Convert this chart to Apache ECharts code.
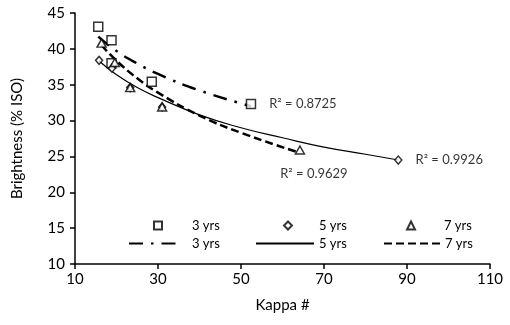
<!DOCTYPE html>
<html>
<head>
<meta charset="utf-8">
<script src="https://cdn.jsdelivr.net/npm/echarts@6/dist/echarts.min.js"></script>
<style>
  html, body { margin: 0; padding: 0; background: #fff; }
  #chart { width: 510px; height: 325px; }
</style>
</head>
<body>
<div id="chart"></div>
<script>
// measured points, [kappa, brightness]
const pts3 = [[15.6, 43.1], [18.8, 41.2], [18.8, 38.0], [28.5, 35.4], [52.4, 32.3]]
const pts5 = [[15.8, 38.4], [18.9, 37.3], [23.3, 34.6], [31.0, 31.9], [87.9, 24.5]]
const pts7 = [[16.4, 40.8], [19.6, 38.1], [23.3, 34.6], [31.0, 31.9], [64.2, 25.9]]

// trendlines
const fit3 = [[15.6, 41.7], [20, 39.7], [25, 37.95], [30, 36.5], [40, 34.2], [52.4, 32.0]]
const fit5 = [[15.8, 38.3], [20, 36.4], [25, 34.6], [30, 33.2], [40, 30.8], [50, 29.0], [60, 27.6], [70, 26.3], [80, 25.3], [87.9, 24.5]]
const fit7 = [[16.4, 40.5], [20, 38.35], [25, 35.9], [30, 33.9], [40, 30.7], [50, 28.3], [64.2, 25.5]]

const r2Labels = ['R\u00b2 = 0.8725', 'R\u00b2 = 0.9926', 'R\u00b2 = 0.9629']

const FONT = 'Lato'

const chart = echarts.init(document.getElementById('chart'))

const markerStyle = { color: '#fff', borderColor: '#000', borderWidth: 1.5 }

// put the R² text on the last marker of each set
const withEndLabel = (arr, text, pos, offset) =>
  arr.map((p, i) => i === arr.length - 1
    ? { value: p, label: { show: true, formatter: text, position: pos, offset: offset, color: '#000', fontSize: 13, fontFamily: FONT } }
    : p)

const legendBox = (name, left, top, w, h, gap) => ({
  data: [name],
  left: left,
  top: top,
  itemWidth: w,
  itemHeight: h,
  itemGap: 0,
  padding: 0,
  selectedMode: false,
  textStyle: { fontFamily: FONT, fontSize: 13, color: '#000', padding: [0, 0, 0, gap] },
  formatter: (n) => n.replace(' fit', '')
})

const option = {
  animation: false,
  grid: { left: 75, right: 20, top: 13, bottom: 61 },
  legend: [
    legendBox('3 yrs', 153, 219, 8, 8, 25),
    legendBox('5 yrs', 283, 219, 8, 8, 22),
    legendBox('7 yrs', 406, 219, 8, 8, 24),
    legendBox('3 yrs fit', 128, 237, 50, 10, 8),
    legendBox('5 yrs fit', 255, 237, 58, 10, 0),
    legendBox('7 yrs fit', 383, 237, 56, 10, 0)
  ],
  xAxis: {
    type: 'value',
    min: 10,
    max: 110,
    interval: 20,
    name: 'Kappa #',
    nameLocation: 'middle',
    nameGap: 34,
    nameTextStyle: { fontFamily: FONT, fontSize: 15, color: '#000' },
    axisLine: { lineStyle: { color: '#000', width: 1.5 } },
    axisTick: { show: true, inside: false, length: 5, lineStyle: { color: '#000', width: 1.5 } },
    axisLabel: { fontFamily: FONT, fontSize: 15, color: '#000', margin: 8 },
    splitLine: { show: false }
  },
  yAxis: {
    type: 'value',
    min: 10,
    max: 45,
    interval: 5,
    name: 'Brightness (% ISO)',
    nameLocation: 'middle',
    nameGap: 50,
    nameTextStyle: { fontFamily: FONT, fontSize: 15, color: '#000' },
    axisLine: { show: true, lineStyle: { color: '#000', width: 1.5 } },
    axisTick: { show: true, inside: false, length: 5, lineStyle: { color: '#000', width: 1.5 } },
    axisLabel: { fontFamily: FONT, fontSize: 15, color: '#000', margin: 10 },
    splitLine: { show: false }
  },
  series: [
    {
      name: '3 yrs fit', type: 'line', smooth: true, symbol: 'none', z: 2,
      itemStyle: { color: '#000', opacity: 0 },
      lineStyle: { color: '#000', width: 2.5, type: [14, 8, 2.5, 8] },
      data: fit3
    },
    {
      name: '5 yrs fit', type: 'line', smooth: true, symbol: 'none', z: 2,
      itemStyle: { color: '#000', opacity: 0 },
      lineStyle: { color: '#000', width: 1.2, type: 'solid' },
      data: fit5
    },
    {
      name: '7 yrs fit', type: 'line', smooth: true, symbol: 'none', z: 2,
      itemStyle: { color: '#000', opacity: 0 },
      lineStyle: { color: '#000', width: 2.5, type: [8, 4] },
      data: fit7
    },
    {
      name: '3 yrs', type: 'scatter', symbol: 'rect', symbolSize: 9, z: 3,
      itemStyle: markerStyle, data: withEndLabel(pts3, r2Labels[0], 'right', [8, 0])
    },
    {
      name: '5 yrs', type: 'scatter', symbol: 'diamond', symbolSize: [7, 8], z: 3,
      itemStyle: markerStyle, data: withEndLabel(pts5, r2Labels[1], 'right', [8, 0])
    },
    {
      name: '7 yrs', type: 'scatter', symbol: 'triangle', symbolSize: [9, 8], z: 3,
      itemStyle: markerStyle, data: withEndLabel(pts7, r2Labels[2], 'bottom', [14, 8])
    }
  ]
}

chart.setOption(option)
</script>
</body>
</html>
